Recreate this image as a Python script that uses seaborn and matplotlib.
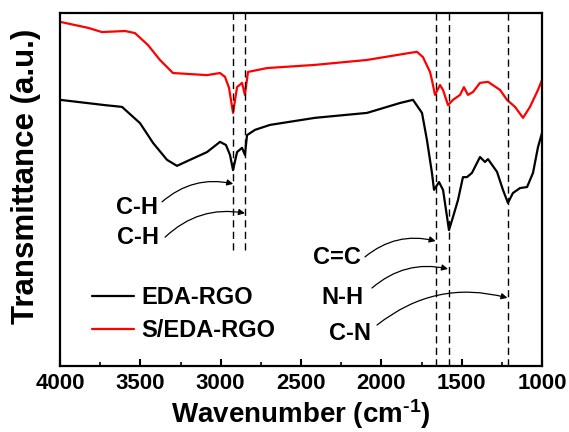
import numpy as np
import pandas as pd
import seaborn as sns
import matplotlib
matplotlib.use("Agg")
import matplotlib.pyplot as plt

# ---- data ----
eda_wn = [4000, 3720, 3614, 3502, 3421, 3334, 3272, 3191, 3085, 3004, 2967, 2942, 2923,
          2898, 2867, 2849, 2836, 2786, 2693, 2413, 2089, 1884, 1803, 1747, 1716, 1685,
          1672, 1641, 1616, 1579, 1554, 1523, 1492, 1467, 1436, 1386, 1355, 1336, 1280,
          1243, 1212, 1181, 1137, 1093, 1056, 1025, 1000]
eda_t = [75.4, 73.9, 73.4, 68.8, 63.2, 58.4, 56.7, 58.4, 60.6, 63.5, 62.6, 59.8, 55.5,
         60.6, 61.8, 59.8, 65.4, 66.9, 68.3, 70.3, 71.7, 74.5, 75.4, 71.7, 64.0, 54.7,
         49.9, 52.1, 49.9, 38.5, 42.2, 47.0, 53.5, 53.5, 54.7, 59.2, 57.8, 58.6, 55.0,
         49.9, 46.2, 49.0, 50.4, 50.7, 54.7, 62.0, 66.0]

s_wn = [4000, 3826, 3739, 3595, 3533, 3452, 3378, 3297, 3085, 3004, 2973, 2948, 2923,
        2898, 2867, 2849, 2830, 2712, 2413, 2089, 1822, 1778, 1741, 1697, 1685, 1666,
        1635, 1616, 1585, 1554, 1510, 1486, 1461, 1430, 1386, 1336, 1261, 1218, 1168,
        1118, 1075, 1025, 1000]
s_t = [97.5, 95.8, 94.6, 94.9, 94.3, 90.9, 86.7, 83.0, 82.4, 83.0, 81.9, 78.8, 71.7,
       79.0, 80.2, 76.8, 83.3, 84.4, 85.3, 86.7, 88.7, 89.0, 87.5, 83.3, 81.0, 76.8,
       79.6, 78.2, 73.9, 75.4, 76.8, 79.0, 76.8, 77.6, 80.2, 80.5, 78.2, 75.4, 73.4,
       70.3, 73.4, 78.2, 81.0]

series_names = ["EDA-RGO", "S/EDA-RGO"]
colors = ["#000000", "#ff0000"]

peak_wn = [2922, 2849, 1662, 1577, 1210]
peak_top = [100, 100, 100, 100, 100]
peak_bottom = [33, 33, 0, 0, 0]

labels = ["C-H", "C-H", "C=C", "N-H", "C-N"]
label_pos = [(3521, 44.8), (3515, 36.3), (2276, 30.6), (2245, 19.5), (2195, 9.3)]
arrow_start = [(3365, 46.5), (3346, 36.5), (2102, 30.9), (2058, 22.1), (2027, 11.6)]
arrow_end = [(2922, 51.6), (2849, 43.3), (1662, 35.4), (1585, 27.5), (1215, 19.3)]

xticks = [4000, 3500, 3000, 2500, 2000, 1500, 1000]
xminor = [3750, 3250, 2750, 2250, 1750, 1250]

df = pd.concat([
    pd.DataFrame({"wn": eda_wn, "T": eda_t, "sample": series_names[0]}),
    pd.DataFrame({"wn": s_wn, "T": s_t, "sample": series_names[1]}),
])

sns.set_style("ticks")
plt.rcParams["font.family"] = ["Liberation Sans", "DejaVu Sans"]
plt.rcParams["font.weight"] = "bold"
plt.rcParams["mathtext.fontset"] = "custom"
plt.rcParams["mathtext.rm"] = "Liberation Sans:bold"
plt.rcParams["mathtext.bf"] = "Liberation Sans:bold"
plt.rcParams["mathtext.default"] = "rm"
for k in ["text.color", "axes.labelcolor", "xtick.color", "ytick.color", "axes.edgecolor"]:
    plt.rcParams[k] = "black"

fig = plt.figure(figsize=(5.69, 4.32), dpi=100)
ax = fig.add_axes([60 / 569, 66 / 432, 482 / 569, 353 / 432])

sns.lineplot(data=df, x="wn", y="T", hue="sample", palette=colors,
             hue_order=series_names, sort=False, estimator=None,
             linewidth=1.6, ax=ax)

for wn, top, bot in zip(peak_wn, peak_top, peak_bottom):
    ax.plot([wn, wn], [bot, top], color="black", linestyle=(0, (5.2, 3.1)), linewidth=1.0)

for lab, pos, st, en in zip(labels, label_pos, arrow_start, arrow_end):
    ax.text(pos[0], pos[1], lab, ha="center", va="center", fontsize=17, fontweight="bold")
    ax.annotate("", xy=en, xytext=st,
                arrowprops=dict(arrowstyle="-|>", color="black", lw=0.9,
                                mutation_scale=9,
                                connectionstyle="arc3,rad=-0.25",
                                shrinkA=0, shrinkB=0))

ax.set_xlim(4000, 1000)
ax.set_ylim(0, 100)
ax.set_xticks(xticks)
ax.set_xticklabels([str(v) for v in xticks], fontsize=16, fontweight="bold")
ax.set_xticks(xminor, minor=True)
ax.tick_params(axis="x", which="major", direction="in", length=5, width=1.5, pad=5,
               top=False)
ax.tick_params(axis="x", which="minor", direction="in", length=3, width=1.2, top=False)
ax.set_yticks([])
for s in ax.spines.values():
    s.set_linewidth(1.6)
    s.set_visible(True)

ax.set_xlabel("Wavenumber (cm$^{\\text{-1}}$)", fontsize=20, fontweight="bold",
              va="baseline")
ax.xaxis.set_label_coords(0.5, -0.1615)
ax.set_ylabel("Transmittance (a.u.)", fontsize=22.5, fontweight="bold", va="center")
ax.yaxis.set_label_coords(-0.0705, 0.537)

leg = ax.legend(loc="center left", bbox_to_anchor=(0.066, 0.147), frameon=False,
                fontsize=17, handlelength=1.8, handletextpad=0.3,
                labelspacing=0.4, borderaxespad=0.0, borderpad=0.0)
for t in leg.get_texts():
    t.set_fontweight("bold")
for h in leg.get_lines():
    h.set_linewidth(1.6)

fig.savefig("out.png", dpi=100)
